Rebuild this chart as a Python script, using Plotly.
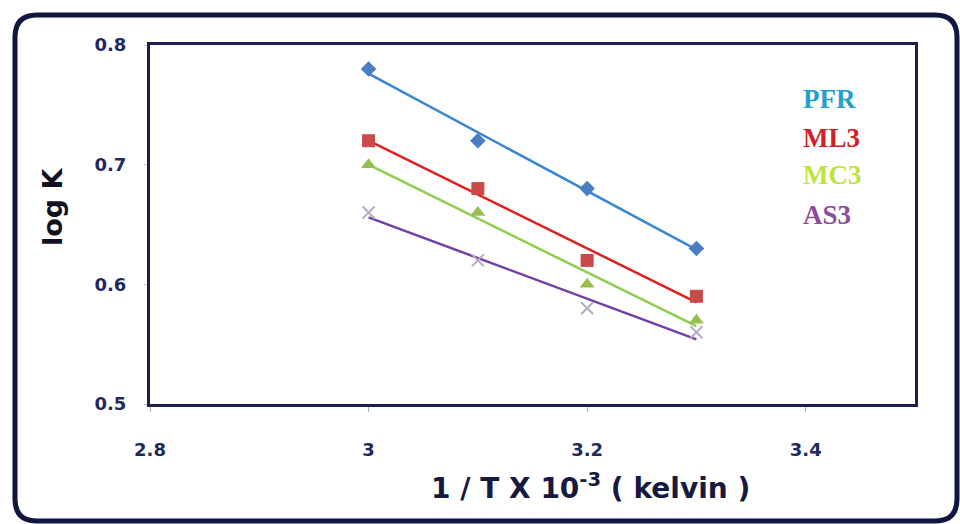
import numpy as np
import plotly.graph_objects as go

# Reciprocal temperature (x 10^-3) and log K for each sample
inv_t = [3.0, 3.1, 3.2, 3.3]
pfr = [0.78, 0.72, 0.68, 0.63]
ml3 = [0.72, 0.68, 0.62, 0.59]
mc3 = [0.70, 0.66, 0.60, 0.57]
as3 = [0.66, 0.62, 0.58, 0.56]

names = ["PFR", "ML3", "MC3", "AS3"]
values = [pfr, ml3, mc3, as3]
x_ticks = [2.8, 3.0, 3.2, 3.4]
x_tick_text = ["2.8", "3", "3.2", "3.4"]
y_ticks = [0.5, 0.6, 0.7, 0.8]

marker_styles = [
    dict(symbol="diamond", size=12, color="#4a7ec2"),
    dict(symbol="square", size=13, color="#c94a48"),
    dict(symbol="triangle-up", size=13, color="#97bf50"),
    dict(symbol="x-thin", size=12, color="#b4adc4", line=dict(width=2, color="#b4adc4")),
]
fit_colors = ["#3b86d2", "#e0201e", "#8ccf4e", "#7040a6"]
label_colors = ["#22a0cf", "#d21f28", "#bde33f", "#8c4c9a"]

fig = go.Figure()

for name, ys, ms, fc in zip(names, values, marker_styles, fit_colors):
    xs = np.array(inv_t)
    slope, intercept = np.polyfit(xs, np.array(ys), 1)
    fig.add_trace(go.Scatter(
        x=xs, y=slope * xs + intercept, mode="lines",
        line=dict(color=fc, width=2.5), showlegend=False, hoverinfo="skip",
    ))
    fig.add_trace(go.Scatter(
        x=inv_t, y=ys, mode="markers", name=name,
        marker=ms, showlegend=False,
    ))

# Colored series labels on the right
label_y = [0.755, 0.7225, 0.691, 0.658]
for name, col, ly in zip(names, label_colors, label_y):
    fig.add_annotation(
        x=3.396, y=ly, xref="x", yref="y", text=name, showarrow=False,
        xanchor="left", yanchor="middle",
        font=dict(family="Liberation Serif", size=27, color=col, weight="bold"),
    )

# Plot-area geometry in pixels
W, H = 960, 524
L, R, T, B = 150, 45, 45, 120
pw, ph = W - L - R, H - T - B


def px(x):
    return (x - L) / pw


def py(y):
    return (H - B - y) / ph


# Axis titles
fig.add_annotation(
    x=px(53), y=py(207), xref="paper", yref="paper", text="log K",
    showarrow=False, textangle=-90, xanchor="center", yanchor="middle",
    font=dict(family="DejaVu Sans", size=27, color="#111122", weight="bold"),
)
fig.add_annotation(
    x=px(590), y=py(486), xref="paper", yref="paper",
    text="1 / T X 10<sup>-3</sup> ( kelvin )",
    showarrow=False, xanchor="center", yanchor="middle",
    font=dict(family="DejaVu Sans", size=28, color="#161a40", weight="bold"),
)

# Rounded outer frame
x0, x1, y0, y1, r = 15, 957, 15, 521, 22
path = (
    f"M {px(x0 + r)},{py(y0)} L {px(x1 - r)},{py(y0)} "
    f"Q {px(x1)},{py(y0)} {px(x1)},{py(y0 + r)} "
    f"L {px(x1)},{py(y1 - r)} Q {px(x1)},{py(y1)} {px(x1 - r)},{py(y1)} "
    f"L {px(x0 + r)},{py(y1)} Q {px(x0)},{py(y1)} {px(x0)},{py(y1 - r)} "
    f"L {px(x0)},{py(y0 + r)} Q {px(x0)},{py(y0)} {px(x0 + r)},{py(y0)} Z"
)
fig.add_shape(type="path", path=path, xref="paper", yref="paper",
              line=dict(color="#10163f", width=5), layer="above")

tick_font = dict(family="DejaVu Sans", size=18, color="#1f2a5c", weight="bold")

fig.update_xaxes(
    range=[2.8, 3.5], tickvals=x_ticks, ticktext=x_tick_text,
    showgrid=False, zeroline=False,
    showline=True, mirror=True, linecolor="#1b2050", linewidth=3,
    ticks="outside", ticklen=5, tickcolor="#b0b0b0",
    tickfont=tick_font, ticklabelstandoff=22,
)
fig.update_yaxes(
    range=[0.5, 0.8], tickvals=y_ticks, tickformat=".1f",
    showgrid=False, zeroline=False,
    showline=True, mirror=True, linecolor="#1b2050", linewidth=3,
    ticks="outside", ticklen=3, tickcolor="#d0d0d0",
    tickfont=tick_font, ticklabelstandoff=14,
)

fig.update_layout(
    width=W, height=H,
    margin=dict(l=L, r=R, t=T, b=B),
    paper_bgcolor="white", plot_bgcolor="white",
)

fig.write_html("out.html")
